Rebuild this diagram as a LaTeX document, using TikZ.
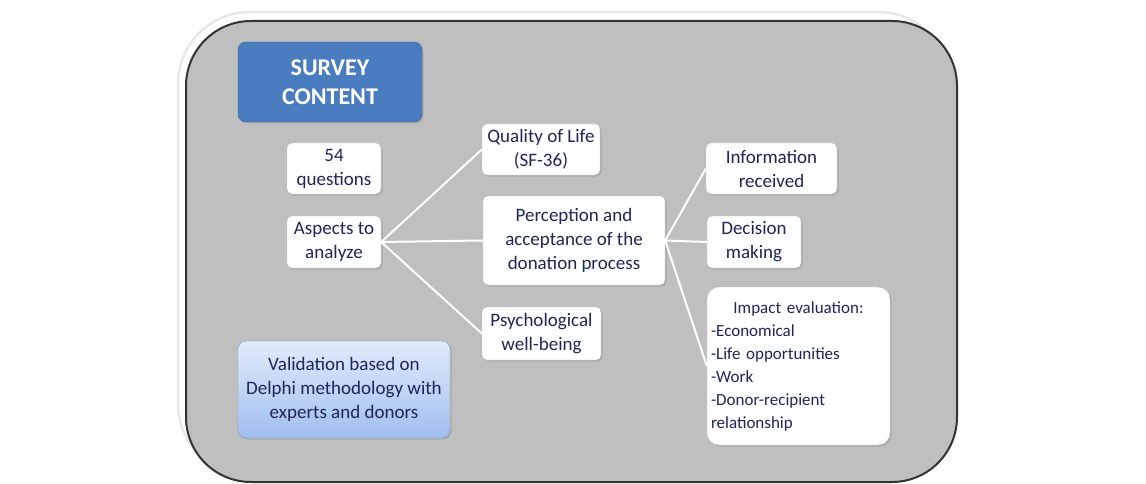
\documentclass[tikz,border=0pt]{standalone}
\usepackage{fontspec}
\setmainfont{Carlito}
\usetikzlibrary{shadows}
\definecolor{panelgray}{RGB}{191,191,191}
\definecolor{textnavy}{RGB}{30,38,88}
\definecolor{surveyblue}{RGB}{74,124,192}
\definecolor{surveyedge}{RGB}{52,92,152}
\definecolor{valtop}{RGB}{226,235,252}
\definecolor{valbottom}{RGB}{160,190,238}
\definecolor{valedge}{RGB}{125,145,185}
\tikzset{
  box/.style={draw=gray!45, fill=white, rounded corners=5pt, align=center, text=textnavy,
    font=\fontsize{19}{24}\selectfont, inner sep=2pt,
    drop shadow={shadow xshift=1.5pt, shadow yshift=-1.5pt, opacity=0.35}},
  link/.style={white, line width=2pt}
}
\begin{document}
\begin{tikzpicture}[x=1pt,y=-1pt]
        \useasboundingbox (0,0) rectangle (1146,484);
        \draw[gray!18, line width=2.5pt, rounded corners=72pt] (178,12) rectangle (950,476);
        \draw[fill=panelgray, draw=black!80, line width=2pt, rounded corners=65pt] (186,21) rectangle (957,482);
        \node[box, fill=surveyblue, draw=surveyedge, text=white, font=\bfseries\fontsize{24}{29}\selectfont,
            minimum width=184pt, minimum height=80pt, rounded corners=8pt] (survey) at (330,82) {SURVEY\\CONTENT};
        \node[box, minimum width=94pt, minimum height=51pt] (questions) at (334,168.5) {54\\questions};
        \node[box, minimum width=94pt, minimum height=52pt] (aspects) at (334,242) {Aspects to\\analyze};
        \node[box, minimum width=118pt, minimum height=51pt] (quality) at (541,149.5) {Quality of Life\\(SF-36)};
        \node[box, minimum width=182pt, minimum height=89pt] (perception) at (574,240.5) {Perception and\\acceptance of the\\donation process};
        \node[box, minimum width=119pt, minimum height=53pt] (wellbeing) at (541.5,333.5) {Psychological\\well-being};
        \node[box, minimum width=131pt, minimum height=51pt] (information) at (771.5,168.5) {Information\\received};
        \node[box, minimum width=94pt, minimum height=52pt] (decision) at (754,242) {Decision\\making};
        \node[box, text width=175pt, inner sep=4pt, minimum height=158pt, rounded corners=12pt, align=left,
            font=\fontsize{17}{23}\selectfont] (impact) at (798.5,366)
            {\centering Impact evaluation:\par\raggedright -Economical\\-Life opportunities\\-Work\\-Donor-recipient\\relationship};
        \node[box, draw=valedge, top color=valtop, bottom color=valbottom, minimum width=212pt, minimum height=97pt,
            rounded corners=8pt] (validation) at (344,389.5) {Validation based on\\Delphi methodology with\\experts and donors};
        \draw[link] (aspects.east) -- (quality.west);
        \draw[link] (aspects.east) -- (perception.west);
        \draw[link] (aspects.east) -- (wellbeing.west);
        \draw[link] (perception.east) -- (information.west);
        \draw[link] (perception.east) -- (decision.west);
        \draw[link] (perception.east) -- (impact.west);
\end{tikzpicture}
\end{document}
